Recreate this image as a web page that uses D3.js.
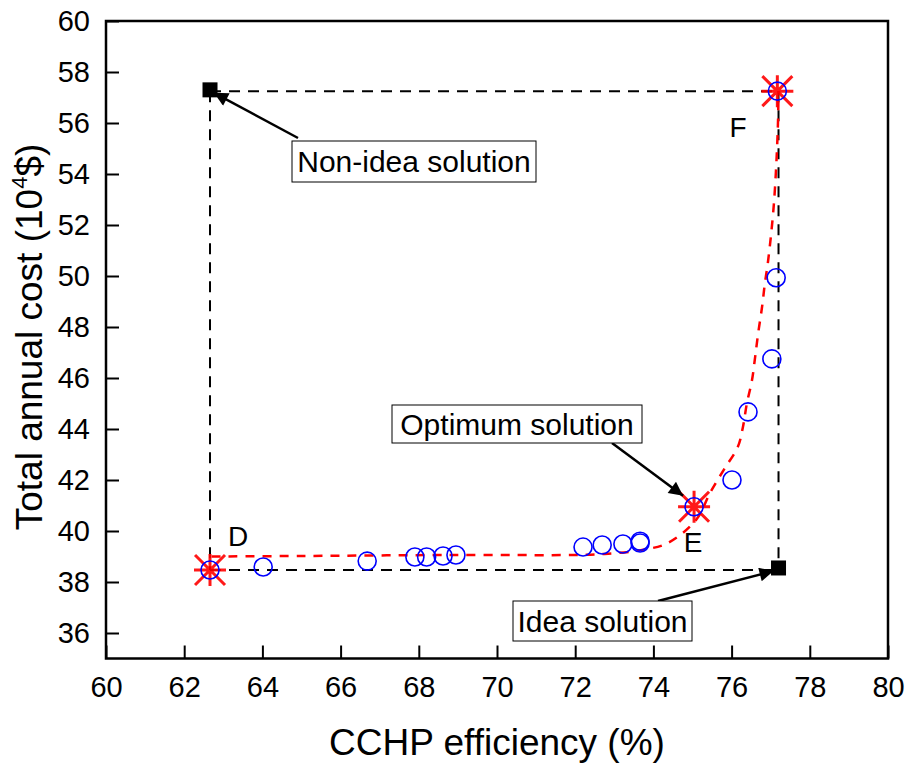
<!DOCTYPE html>
<html>
<head>
<meta charset="utf-8">
<script src="https://cdn.jsdelivr.net/npm/d3@7/dist/d3.min.js"></script>
<style>
  html, body { margin: 0; padding: 0; background: #fff; }
  svg { display: block; font-family: Arial, "Liberation Sans", sans-serif; }
</style>
</head>
<body>
<svg id="chart" width="911" height="765"></svg>
<script>
// Pareto front solutions: CCHP efficiency (%) vs total annual cost (10^4 $)
const efficiency = [62.66, 64.02, 66.68, 67.90, 68.20, 68.62, 68.95, 72.20, 72.69, 73.22, 73.66, 73.66, 75.04, 76.01, 76.42, 77.03, 77.14, 77.17];
const cost       = [38.47, 38.59, 38.82, 38.98, 38.98, 39.02, 39.06, 39.37, 39.45, 39.49, 39.53, 39.60, 40.95, 42.00, 44.67, 46.75, 49.93, 57.25];

// Fitted trend curve
const fitEff  = [62.70, 65.00, 68.80, 72.00, 72.76, 73.68, 74.37, 75.10, 75.45, 75.80, 76.16, 76.29, 76.39, 76.52, 76.60, 76.68, 76.78, 76.85, 76.93, 77.08, 77.18, 77.20];
const fitCost = [39.00, 39.02, 39.06, 39.06, 39.10, 39.25, 39.53, 40.45, 41.50, 42.40, 43.30, 44.08, 45.00, 45.90, 46.80, 47.76, 48.80, 49.70, 50.55, 52.80, 55.70, 57.25];

// Highlighted solutions D, E, F
const keyNames = ["D", "E", "F"];
const keyEff   = [62.66, 75.04, 77.17];
const keyCost  = [38.47, 40.95, 57.25];

// Ideal / non-ideal reference points
const refNames = ["Idea solution", "Non-idea solution"];
const refEff   = [77.20, 62.66];
const refCost  = [38.55, 57.30];

const xTicks = d3.range(60, 81, 2);
const yTicks = d3.range(36, 61, 2);

const svg = d3.select("#chart");
const mLeft = 106, mTop = 21, mRight = 888, mBottom = 658.5;

const x = d3.scaleLinear().domain([60, 80]).range([mLeft, mRight]);
const y = d3.scaleLinear().domain([35, 60]).range([mBottom, mTop]);

// Arrow marker
const defs = svg.append("defs");
defs.append("marker")
  .attr("id", "arrow")
  .attr("viewBox", "0 0 10 10")
  .attr("refX", 10).attr("refY", 5)
  .attr("markerUnits", "userSpaceOnUse")
  .attr("markerWidth", 22).attr("markerHeight", 14)
  .attr("orient", "auto")
  .append("path")
  .attr("d", "M0,0 L10,5 L0,10 Z")
  .attr("fill", "#000");

// Dashed rectangle joining ideal and non-ideal corners
const xl = x(refEff[1]), xr = x(refEff[0]);
const yt = y(refCost[1] - 0.05), yb = y(keyCost[0]);
const dash = svg.append("g")
  .attr("stroke", "#000").attr("stroke-width", 2)
  .attr("stroke-dasharray", "11,8").attr("fill", "none");
dash.append("line").attr("x1", xl).attr("y1", yt).attr("x2", xr).attr("y2", yt);
dash.append("line").attr("x1", xl).attr("y1", yb).attr("x2", xr).attr("y2", yb);
dash.append("line").attr("x1", xl).attr("y1", yt).attr("x2", xl).attr("y2", yb);
dash.append("line").attr("x1", xr).attr("y1", yt).attr("x2", xr).attr("y2", y(refCost[0]));

// Fitted curve
const fit = fitEff.map((d, i) => [d, fitCost[i]]);
svg.append("path")
  .datum(fit)
  .attr("d", d3.line().x(d => x(d[0])).y(d => y(d[1])).curve(d3.curveCatmullRom.alpha(0.5)))
  .attr("fill", "none")
  .attr("stroke", "#ff0000")
  .attr("stroke-width", 2.5)
  .attr("stroke-dasharray", "9,8");

// Star markers on D, E, F
const starG = svg.append("g")
  .attr("stroke", "#ff0000").attr("stroke-opacity", 0.9)
  .attr("stroke-width", 3).attr("fill", "none");
keyEff.forEach((e, i) => {
  const cx = x(e), cy = y(keyCost[i]);
  const r = 16, rd = 15;
  starG.append("path")
    .attr("d", `M${cx - r},${cy}H${cx + r}M${cx},${cy - r}V${cy + r}` +
      `M${cx - rd},${cy - rd}L${cx + rd},${cy + rd}M${cx - rd},${cy + rd}L${cx + rd},${cy - rd}`);
});

// Solution circles
svg.append("g").selectAll("circle")
  .data(efficiency.map((d, i) => [d, cost[i]]))
  .join("circle")
  .attr("cx", d => x(d[0]))
  .attr("cy", d => y(d[1]))
  .attr("r", 9)
  .attr("fill", "none")
  .attr("stroke", "#0000ff")
  .attr("stroke-width", 1.6);

// Ideal / non-ideal squares
svg.append("g").selectAll("rect")
  .data(refEff.map((d, i) => [d, refCost[i]]))
  .join("rect")
  .attr("x", d => x(d[0]) - 7.5)
  .attr("y", d => y(d[1]) - 7.5)
  .attr("width", 15).attr("height", 15)
  .attr("fill", "#000");

// Axes with inward ticks
const xAxis = svg.append("g").attr("transform", `translate(0,${mBottom})`)
  .call(d3.axisBottom(x).tickValues(xTicks).tickSize(-13).tickPadding(18).tickFormat(d3.format("d")));
const yAxis = svg.append("g").attr("transform", `translate(${mLeft},0)`)
  .call(d3.axisLeft(y).tickValues(yTicks).tickSize(-13).tickPadding(16).tickFormat(d3.format("d")));
[xAxis, yAxis].forEach(g => {
  g.selectAll("path.domain").remove();
  g.selectAll("line").attr("stroke", "#000").attr("stroke-width", 2);
  g.selectAll("text").attr("font-size", 29).attr("fill", "#000")
    .attr("font-family", "Arial, 'Liberation Sans', sans-serif");
});
xAxis.selectAll("text").attr("dy", "0.71em");

// Frame
svg.append("rect")
  .attr("x", mLeft).attr("y", mTop)
  .attr("width", mRight - mLeft).attr("height", mBottom - mTop)
  .attr("fill", "none").attr("stroke", "#000").attr("stroke-width", 2.5);

// Axis titles
svg.append("text")
  .attr("x", 497).attr("y", 755)
  .attr("text-anchor", "middle").attr("font-size", 37)
  .text("CCHP efficiency (%)");

const yTitle = svg.append("text")
  .attr("transform", `translate(42,337) rotate(-90)`)
  .attr("text-anchor", "middle").attr("font-size", 37);
yTitle.append("tspan").text("Total annual cost (10");
yTitle.append("tspan").attr("font-size", 22).attr("dy", -15).text("4");
yTitle.append("tspan").attr("dy", 15).text("$)");

// Point letters
const letterPos = { D: [238, 546], E: [693, 552], F: [738, 137] };
keyNames.forEach(n => {
  svg.append("text")
    .attr("x", letterPos[n][0]).attr("y", letterPos[n][1])
    .attr("text-anchor", "middle").attr("font-size", 28)
    .text(n);
});

// Callout boxes with arrows
function callout(label, bx, by, bw, bh, ax1, ay1, tx, ty) {
  svg.append("line")
    .attr("x1", ax1).attr("y1", ay1).attr("x2", tx).attr("y2", ty)
    .attr("stroke", "#000").attr("stroke-width", 2.5)
    .attr("marker-end", "url(#arrow)");
  svg.append("rect")
    .attr("x", bx).attr("y", by).attr("width", bw).attr("height", bh)
    .attr("fill", "#fff").attr("stroke", "#000").attr("stroke-width", 1);
  svg.append("text")
    .attr("x", bx + bw / 2).attr("y", by + bh / 2)
    .attr("dy", "0.36em")
    .attr("text-anchor", "middle").attr("font-size", 30)
    .text(label);
}
callout("Non-idea solution", 292, 141, 244, 41, 298, 138, x(refEff[1]) + 4, y(refCost[1]) + 3);
callout("Optimum solution", 392, 405, 250, 38, 612, 443, x(keyEff[1]) - 11, y(keyCost[1]) - 11);
callout("Idea solution", 513, 601, 179, 40, 658, 601, x(refEff[0]) - 5, y(refCost[0]) + 3);
</script>
</body>
</html>
